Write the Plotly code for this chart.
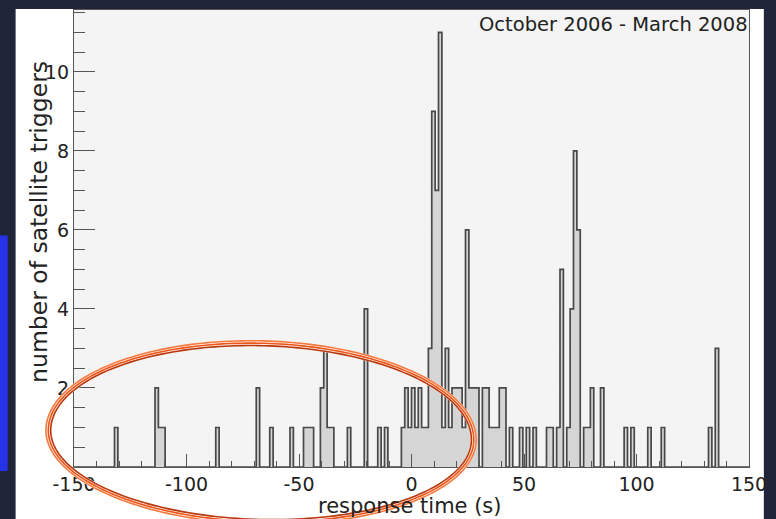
import numpy as np
import plotly.graph_objects as go

# Histogram binning: 200 bins of 1.5 s between -150 s and +150 s
bin_width = 1.5
t_min, t_max = -150.0, 150.0

# Left edge (s) of every non-empty bin and its number of satellite triggers
bin_left = [-132.0, -114.0, -112.5, -111.0, -87.0, -69.0, -63.0, -54.0,
            -48.0, -46.5, -45.0, -40.5, -39.0, -37.5, -36.0, -28.5, -21.0,
            -15.0, -12.0, -4.5, -3.0, -1.5, 0.0, 1.5, 3.0, 4.5, 6.0, 7.5,
            9.0, 10.5, 12.0, 13.5, 15.0, 16.5, 18.0, 19.5, 21.0, 22.5, 24.0,
            25.5, 27.0, 28.5, 31.5, 33.0, 34.5, 36.0, 37.5, 39.0, 40.5, 43.5,
            48.0, 51.0, 54.0, 60.0, 61.5, 64.5, 66.0, 69.0, 70.5, 72.0, 73.5,
            76.5, 78.0, 79.5, 84.0, 94.5, 97.5, 105.0, 111.0, 132.0, 135.0]
bin_count = [1, 2, 1, 1, 1, 2, 1, 1,
             1, 1, 1, 2, 3, 1, 1, 1, 4,
             1, 1, 1, 2, 1, 2, 1, 2, 1, 1, 3,
             9, 7, 11, 1, 3, 1, 2, 2, 2, 1, 6,
             2, 2, 2, 2, 2, 1, 1, 1, 2, 2, 1,
             1, 1, 1, 1, 1, 1, 5, 1, 4, 8, 6,
             1, 1, 2, 2, 1, 1, 1, 1, 1, 3]

x_tick_vals = [-150, -100, -50, 0, 50, 100, 150]
x_tick_text = ["-150", "-100", "-50", "0", "50", "100", "150"]
y_tick_vals = [2, 4, 6, 8, 10]
y_tick_text = ["2", "4", "6", "8", "10"]

x_title = "response time (s)"
y_title = "number of satellite triggers"
period_label = "October 2006 - March 2008"

# ---- full bin contents and the step outline of the histogram
n_bins = int(round((t_max - t_min) / bin_width))
edges = t_min + bin_width * np.arange(n_bins + 1)
counts = np.zeros(n_bins)
for left, c in zip(bin_left, bin_count):
    counts[int(round((left - t_min) / bin_width))] = c

step_x = np.concatenate([[edges[0]], edges[:-1], [edges[-1]]])
step_y = np.concatenate([[0.0], counts, [0.0]])

# ---- page geometry (pixels)
W, H = 776, 519
L, R, T, B = 74, 20, 9, 52
PW, PH = W - L - R, H - T - B


def px(x):
    return (x - L) / PW


def py(y):
    return (H - B - y) / PH


fig = go.Figure()
fig.add_trace(go.Scatter(
    x=step_x, y=step_y, mode="lines",
    line=dict(shape="hv", color="#484848", width=1.7),
    fill="tozeroy", fillcolor="#d5d5d5",
    hoverinfo="skip", showlegend=False,
))

shapes = [
    # white slide panel behind the frame
    dict(type="rect", xref="paper", yref="paper", layer="below",
         x0=px(15), x1=px(771), y0=py(H + 2), y1=py(8),
         fillcolor="#ffffff", line=dict(width=0)),
    # frame background
    dict(type="rect", xref="paper", yref="paper", layer="below",
         x0=0, x1=1, y0=0, y1=1, fillcolor="#f4f4f4", line=dict(width=0)),
    # blue side bar at the left edge
    dict(type="rect", xref="paper", yref="paper", layer="below",
         x0=px(-2), x1=px(7), y0=py(471), y1=py(235),
         fillcolor="#2632e8", line=dict(width=0)),
]


# hand-drawn style highlight ring around the negative response times
def ring_path(dr):
    cx, cy, a, b_top, b_bot, tilt = 263.0, 435.0, 215.0, 92.0, 87.0, np.radians(1.5)
    t = np.linspace(0, 2 * np.pi, 241)
    b = np.where(np.sin(t) > 0, b_bot, b_top) + dr
    u = (a + dr) * np.cos(t)
    w = b * np.sin(t)
    xs = cx + u * np.cos(tilt) - w * np.sin(tilt)
    ys = cy + u * np.sin(tilt) + w * np.cos(tilt)
    pts = [f"{px(x):.5f},{py(y):.5f}" for x, y in zip(xs, ys)]
    return "M " + " L ".join(pts) + " Z"


shapes.append(dict(type="path", xref="paper", yref="paper", layer="above",
                   path=ring_path(0), line=dict(color="#fff6f0", width=6.5)))
for dr, col in [(2.4, "#f47a40"), (0.0, "#ec5418"), (-2.4, "#b8370c")]:
    shapes.append(dict(type="path", xref="paper", yref="paper", layer="above",
                       path=ring_path(dr), line=dict(color=col, width=1.6)))

font_family = "DejaVu Sans, sans-serif"
text_col = "#222222"

fig.update_layout(
    width=W, height=H, autosize=False,
    margin=dict(l=L, r=R, t=T, b=B, pad=0),
    paper_bgcolor="#21253a", plot_bgcolor="rgba(0,0,0,0)",
    font=dict(family=font_family, color=text_col),
    shapes=shapes,
    showlegend=False,
    annotations=[
        dict(text=period_label, xref="paper", yref="paper",
             x=px(757), y=py(24), xanchor="right", yanchor="middle",
             showarrow=False, font=dict(size=19.5, color=text_col)),
        dict(text=y_title, xref="paper", yref="paper",
             x=px(38), y=py(221), textangle=-90,
             xanchor="center", yanchor="middle",
             showarrow=False, font=dict(size=23.5, color=text_col)),
        dict(text=x_title, xref="paper", yref="paper",
             x=px(413), y=py(506), xanchor="center", yanchor="middle",
             showarrow=False, font=dict(size=21, color=text_col)),
    ],
)

fig.update_xaxes(
    range=[t_min, t_max], tickmode="array",
    tickvals=x_tick_vals, ticktext=x_tick_text,
    ticks="inside", ticklen=13, tickwidth=1, tickcolor="#555555",
    minor=dict(dtick=10, tick0=0, ticks="inside", ticklen=6,
               tickwidth=1, tickcolor="#555555"),
    showline=True, linecolor="#555555", linewidth=1.4, mirror=True,
    showgrid=False, zeroline=False,
    tickfont=dict(size=19, color=text_col), ticklabelstandoff=0,
)
fig.update_yaxes(
    range=[0, PH / 39.6], tickmode="array",
    tickvals=y_tick_vals, ticktext=y_tick_text,
    ticks="inside", ticklen=21, tickwidth=1, tickcolor="#555555",
    minor=dict(dtick=0.5, tick0=0, ticks="inside", ticklen=11,
               tickwidth=1, tickcolor="#555555"),
    showline=True, linecolor="#555555", linewidth=1.4, mirror=True,
    showgrid=False, zeroline=False,
    tickfont=dict(size=19, color=text_col), ticklabelstandoff=0,
)

fig.write_html("out.html")
